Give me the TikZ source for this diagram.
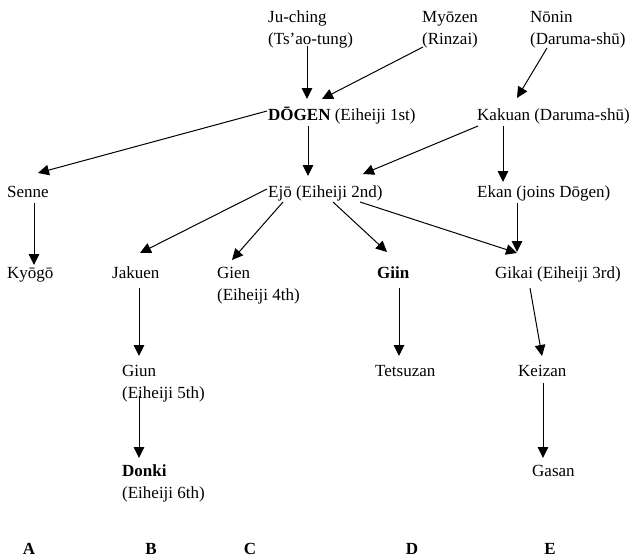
\documentclass[tikz,border=0pt]{standalone}
\usepackage{fontspec}
\setmainfont{Liberation Serif}
\usetikzlibrary{arrows.meta,calc}
\begin{document}
\begin{tikzpicture}[x=1pt,y=-1pt,
  lbl/.style={anchor=base west, inner sep=0pt, align=left, font=\fontsize{17}{22}\selectfont},
  letter/.style={anchor=base, inner sep=0pt, font=\fontsize{17}{22}\selectfont\bfseries},
  arr/.style={-{Triangle[length=11pt,width=10.5pt]}, line width=1pt}]
\useasboundingbox[fill=white] (0,0) rectangle (633,560);
% nodes (multi-line nodes are placed at the baseline of their last line)
\node[lbl] (juching) at (268,44) {Ju-ching\\(Ts’ao-tung)};
\node[lbl] (myozen) at (422,44) {Myōzen\\(Rinzai)};
\node[lbl] (nonin) at (530,44) {Nōnin\\(Daruma-shū)};
\node[lbl] (dogen) at (268,120) {\textbf{DŌGEN} (Eiheiji 1st)};
\node[lbl] (kakuan) at (477,120) {Kakuan (Daruma-shū)};
\node[lbl] (senne) at (7,197) {Senne};
\node[lbl] (ejo) at (268,197) {Ejō (Eiheiji 2nd)};
\node[lbl] (ekan) at (477,197) {Ekan (joins Dōgen)};
\node[lbl] (kyogo) at (7,278) {Kyōgō};
\node[lbl] (jakuen) at (112,278) {Jakuen};
\node[lbl] (gien) at (217,300) {Gien\\(Eiheiji 4th)};
\node[lbl] (giin) at (377,278) {\textbf{Giin}};
\node[lbl] (gikai) at (495,278) {Gikai (Eiheiji 3rd)};
\node[lbl] (giun) at (122,398) {Giun\\(Eiheiji 5th)};
\node[lbl] (tetsuzan) at (375,376) {Tetsuzan};
\node[lbl] (keizan) at (518,376) {Keizan};
\node[lbl] (donki) at (122,498) {\textbf{Donki}\\(Eiheiji 6th)};
\node[lbl] (gasan) at (532,476) {Gasan};
\node[letter] (la) at (29,554) {A};
\node[letter] (lb) at (151,554) {B};
\node[letter] (lc) at (250,554) {C};
\node[letter] (ld) at (412,554) {D};
\node[letter] (le) at (550,554) {E};
% connectors
\draw[arr] ($(juching.base west)+(39,2)$) -- ($(dogen.base west)+(39,-21)$);
\draw[arr] ($(myozen.base west)+(1,3)$) -- ($(dogen.base west)+(54,-21)$);
\draw[arr] ($(nonin.base west)+(17,4)$) -- ($(kakuan.base west)+(40,-22)$);
\draw[arr] ($(dogen.base west)+(-1,-9)$) -- ($(senne.base west)+(31,-24)$);
\draw[arr] ($(dogen.base west)+(40,6)$) -- ($(ejo.base west)+(40,-21)$);
\draw[arr] ($(kakuan.base west)+(1,6)$) -- ($(ejo.base west)+(95,-23)$);
\draw[arr] ($(kakuan.base west)+(26,6)$) -- ($(ekan.base west)+(26,-15)$);
\draw[arr] ($(senne.base west)+(27,6)$) -- ($(kyogo.base west)+(27,-13)$);
\draw[arr] ($(ejo.base west)+(-1,-8)$) -- ($(jakuen.base west)+(28,-25)$);
\draw[arr] ($(ejo.base west)+(15,5)$) -- ($(gien.base west)+(15,-40)$);
\draw[arr] ($(ejo.base west)+(65,5)$) -- ($(giin.base west)+(10,-26)$);
\draw[arr] ($(ejo.base west)+(92,5)$) -- ($(gikai.base west)+(22,-25)$);
\draw[arr] ($(ekan.base west)+(40,6)$) -- ($(gikai.base west)+(22,-26)$);
\draw[arr] ($(jakuen.base west)+(27,10)$) -- ($(giun.base west)+(17,-42)$);
\draw[arr] ($(giin.base west)+(22,10)$) -- ($(tetsuzan.base west)+(24,-20)$);
\draw[arr] ($(gikai.base west)+(35,10)$) -- ($(keizan.base west)+(24,-20)$);
\draw[arr] ($(giun.base west)+(17,-2)$) -- ($(donki.base west)+(17,-40)$);
\draw[arr] ($(keizan.base west)+(25,7)$) -- ($(gasan.base west)+(11,-18)$);
\end{tikzpicture}
\end{document}
